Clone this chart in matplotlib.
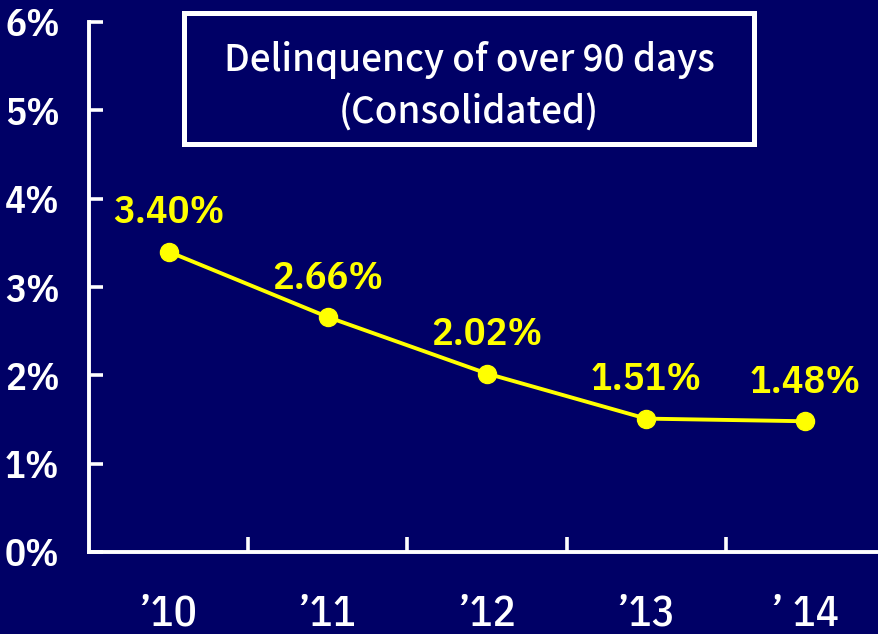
import matplotlib
matplotlib.use("Agg")
import matplotlib.pyplot as plt
from matplotlib.patches import Rectangle

# Delinquency ratio (over 90 days), consolidated, by fiscal year
years = ["’10", "’11", "’12", "’13", "’ 14"]
ratios = [3.40, 2.66, 2.02, 1.51, 1.48]
y_ticks = [0, 1, 2, 3, 4, 5, 6]
y_tick_labels = [f"{v}%" for v in y_ticks]
title_lines = ["Delinquency of over 90 days", "(Consolidated)"]

NAVY = "#000066"
YELLOW = "#FFFF00"
WHITE = "#FFFFFF"
NUM_FONT = ["IBM Plex Sans Condensed", "DejaVu Sans"]
TITLE_FONT = ["Noto Sans CJK JP", "DejaVu Sans"]

W, H, DPI = 879, 634, 100
fig = plt.figure(figsize=(W / DPI, H / DPI), dpi=DPI, facecolor=NAVY)

def px(x, y):
    return x / W, 1 - y / H

# plot area in pixels: left spine at x=89, 0% at y=552, 6% at y=22
left, right, top, bottom = 89, 885, 22, 552
ax = fig.add_axes([left / W, 1 - bottom / H, (right - left) / W, (bottom - top) / H])
ax.set_facecolor(NAVY)

x = list(range(len(years)))
ax.plot(x, ratios, color=YELLOW, lw=2.8, marker="o", ms=13, mfc=YELLOW, mec=YELLOW,
        solid_capstyle="round", zorder=3, clip_on=False)

for xi, v in zip(x, ratios):
    ax.annotate(f"{v:.2f}%", (xi, v), xytext=(0, 20.5), textcoords="offset points",
                ha="center", va="baseline", color=YELLOW, fontsize=29,
                family=NUM_FONT, fontweight=600)

ax.set_xlim(-0.5, len(years) - 0.5)
ax.set_ylim(0, 6)

# y axis
ax.set_yticks(y_ticks)
ax.set_yticklabels(y_tick_labels, family=NUM_FONT, fontweight=600, fontsize=28, color=WHITE)
ax.tick_params(axis="y", direction="in", length=10, width=2.6, color=WHITE, pad=21)

# x axis: labels at category centres, tick marks at category boundaries
ax.set_xticks(x)
ax.set_xticklabels(years, family=NUM_FONT, fontweight=500, fontsize=31, color=WHITE)
ax.tick_params(axis="x", which="major", length=0, pad=30)
ax.set_xticks([i + 0.5 for i in x[:-1]], minor=True)
ax.tick_params(axis="x", which="minor", direction="in", length=11, width=2.6, color=WHITE)

for s in ("top", "right"):
    ax.spines[s].set_visible(False)
for s in ("left", "bottom"):
    ax.spines[s].set_color(WHITE)
    ax.spines[s].set_linewidth(2.8)

# title box
x0, y0 = px(184.5, 143.5)
x1, y1 = px(754.5, 13.5)
fig.patches.append(Rectangle((x0, y0), x1 - x0, y1 - y0, transform=fig.transFigure,
                             facecolor=NAVY, edgecolor=WHITE, linewidth=3.6, zorder=5))
fig.text(*px(469, 71), title_lines[0], ha="center", va="baseline", color=WHITE,
         fontsize=26.5, family=TITLE_FONT, fontweight=500, zorder=6)
fig.text(*px(469, 124), title_lines[1], ha="center", va="baseline", color=WHITE,
         fontsize=26.5, family=TITLE_FONT, fontweight=500, zorder=6)

fig.savefig("out.png", dpi=DPI, facecolor=NAVY)
